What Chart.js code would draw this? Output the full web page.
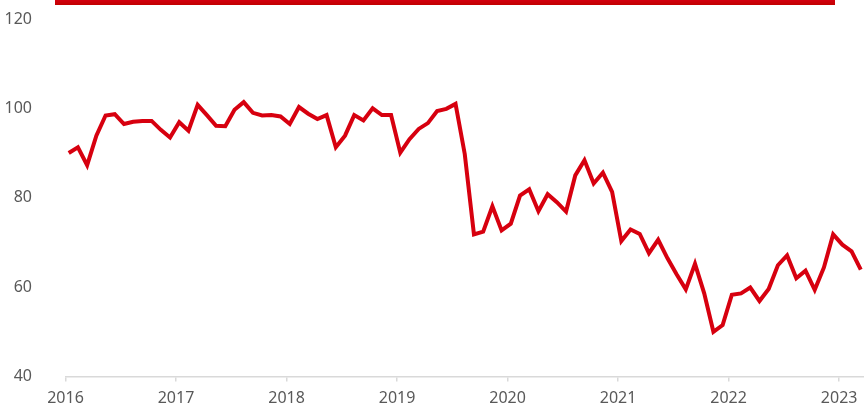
<!DOCTYPE html>
<html>
<head>
<meta charset="utf-8">
<script src="https://cdn.jsdelivr.net/npm/chart.js@4/dist/chart.umd.min.js"></script>
<style>
  html, body { margin: 0; padding: 0; background: #fff; }
  #wrap { position: relative; width: 864px; height: 405px; }
  #bar { position: absolute; left: 55px; top: 0; width: 780px; height: 5px;
         background: linear-gradient(#d3000f, #c20000); }
</style>
</head>
<body>
<div id="wrap">
  <canvas id="c" width="864" height="405"></canvas>
  <div id="bar"></div>
</div>
<script>
// Monthly series, Jan 2016 .. Mar 2023
const startYear = 2016;
const values = [
  90.0, 91.3, 87.3, 93.9, 98.4, 98.7, 96.5, 97.0, 97.2, 97.2, 95.2, 93.5,
  96.9, 95.0, 100.8, 98.5, 96.1, 96.0, 99.7, 101.4, 99.0, 98.4, 98.5, 98.2,
  96.5, 100.3, 98.8, 97.6, 98.5, 91.3, 93.9, 98.5, 97.3, 100.0, 98.5, 98.5,
  90.1, 93.1, 95.4, 96.7, 99.4, 99.9, 101.0, 89.8, 71.8, 72.4, 78.1, 72.7,
  74.2, 80.5, 81.9, 77.0, 80.8, 79.0, 76.9, 85.0, 88.4, 83.2, 85.6, 81.3,
  70.3, 72.9, 71.9, 67.6, 70.6, 66.5, 62.9, 59.5, 65.2, 58.6, 50.0, 51.5,
  58.3, 58.6, 59.9, 56.9, 59.6, 64.9, 67.1, 62.0, 63.7, 59.4, 64.4, 71.8,
  69.5, 68.0, 63.9
];
const yearLabels = ["2016","2017","2018","2019","2020","2021","2022","2023"];
const yTicks = [40, 60, 80, 100, 120];

const points = values.map((v, i) => ({ x: i, y: v }));
const tickShift = -0.35;

new Chart(document.getElementById('c'), {
  type: 'line',
  data: {
    datasets: [{
      data: points,
      borderColor: '#d7000f',
      borderWidth: 4,
      pointRadius: 0,
      tension: 0,
      fill: false,
      clip: false
    }]
  },
  options: {
    responsive: false,
    animation: false,
    layout: { padding: { top: 19, right: 0, left: 0, bottom: 0 } },
    plugins: { legend: { display: false }, tooltip: { enabled: false } },
    scales: {
      x: {
        type: 'linear',
        min: -0.35,
        max: 86.35,
        afterBuildTicks: (axis) => {
          axis.ticks = yearLabels.map((_, k) => ({ value: k * 12 + tickShift }));
        },
        afterFit: (axis) => {
          axis.height = 28.5;
          axis.paddingLeft = 0; axis.paddingRight = 0;
        },
        border: { display: true, color: '#d9d9d9', width: 1.5 },
        grid: { display: true, drawOnChartArea: false, drawTicks: true, tickLength: 5, color: '#d9d9d9', lineWidth: 1.5 },
        ticks: {
          autoSkip: false,
          maxRotation: 0,
          padding: 7,
          color: '#595959',
          font: { family: 'Noto Sans', size: 16 },
          callback: (val) => yearLabels[Math.round((val - tickShift) / 12)]
        }
      },
      y: {
        min: 40,
        max: 120,
        afterBuildTicks: (axis) => { axis.ticks = yTicks.map(v => ({ value: v })); },
        afterFit: (axis) => {
          axis.width = 65.5;
          axis.paddingTop = 0; axis.paddingBottom = 0;
        },
        border: { display: false },
        grid: { display: false },
        ticks: {
          padding: 25.5,
          color: '#595959',
          font: { family: 'Noto Sans', size: 16 }
        }
      }
    }
  }
});
</script>
</body>
</html>
